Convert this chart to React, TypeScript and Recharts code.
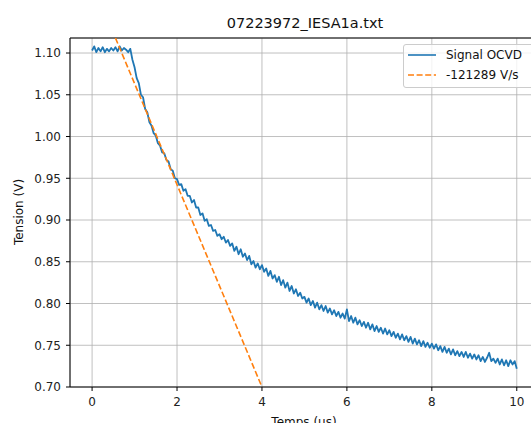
import React from "react";
import { LineChart, Line, XAxis, YAxis, CartesianGrid, ReferenceLine } from "recharts";

const TITLE = "07223972_IESA1a.txt";
const X_LABEL = "Temps (us)";
const Y_LABEL = "Tension (V)";
const SERIES_NAMES = ["Signal OCVD", "-121289 V/s"];

const X_TICKS = [0, 2, 4, 6, 8, 10];
const Y_TICKS = [0.7, 0.75, 0.8, 0.85, 0.9, 0.95, 1.0, 1.05, 1.1];

const TIME_STEP_US = 0.05;
const SIGNAL_V = [
  1.103, 1.108, 1.101, 1.106, 1.102, 1.107, 1.101, 1.105, 1.102, 1.106,
  1.103, 1.107, 1.102, 1.108, 1.103, 1.106, 1.104, 1.101, 1.105, 1.092,
  1.083, 1.070, 1.064, 1.050, 1.047, 1.033, 1.029, 1.017, 1.013, 1.004,
  1.001, 0.992, 0.989, 0.981, 0.980, 0.972, 0.970, 0.961, 0.959, 0.950,
  0.949, 0.942, 0.943, 0.935, 0.937, 0.929, 0.929, 0.921, 0.924, 0.915,
  0.915, 0.906, 0.908, 0.899, 0.901, 0.893, 0.894, 0.887, 0.888, 0.881,
  0.883, 0.877, 0.880, 0.873, 0.876, 0.869, 0.872, 0.863, 0.868, 0.859,
  0.865, 0.856, 0.860, 0.852, 0.857, 0.847, 0.851, 0.843, 0.848, 0.841,
  0.846, 0.838, 0.842, 0.833, 0.839, 0.830, 0.834, 0.826, 0.832, 0.822,
  0.828, 0.819, 0.825, 0.815, 0.821, 0.812, 0.817, 0.809, 0.813, 0.806,
  0.808, 0.801, 0.806, 0.798, 0.803, 0.795, 0.801, 0.793, 0.798, 0.791,
  0.797, 0.789, 0.794, 0.787, 0.792, 0.785, 0.790, 0.783, 0.788, 0.782,
  0.793, 0.779, 0.785, 0.777, 0.783, 0.775, 0.780, 0.773, 0.778, 0.771,
  0.777, 0.769, 0.775, 0.767, 0.773, 0.766, 0.771, 0.764, 0.770, 0.763,
  0.768, 0.761, 0.766, 0.759, 0.764, 0.757, 0.763, 0.756, 0.761, 0.754,
  0.760, 0.752, 0.758, 0.751, 0.756, 0.749, 0.755, 0.748, 0.753, 0.747,
  0.752, 0.746, 0.751, 0.744, 0.749, 0.742, 0.748, 0.741, 0.746, 0.739,
  0.745, 0.738, 0.743, 0.737, 0.742, 0.736, 0.742, 0.735, 0.740, 0.734,
  0.739, 0.733, 0.738, 0.731, 0.736, 0.730, 0.735, 0.741, 0.731, 0.734,
  0.729, 0.734, 0.727, 0.733, 0.726, 0.732, 0.725, 0.732, 0.727, 0.731,
  0.722,
];

const FIT_T = [0.55, 4.0];
const FIT_V = [1.118, 0.7];

const signalData = SIGNAL_V.map((v, i) => ({ t: +(i * TIME_STEP_US).toFixed(2), v }));
const fitData = FIT_T.map((t, i) => ({ t, v: FIT_V[i] }));

const FONT = "'DejaVu Sans', sans-serif";
const BLUE = "#1f77b4";
const ORANGE = "#ff7f0e";
const Y_MAX = 1.118;

export default function App() {
  return (
    <div
      style={{
        position: "absolute",
        left: 0,
        top: 0,
        width: 531,
        height: 423,
        overflow: "hidden",
        background: "#fff",
        fontFamily: FONT,
      }}
    >
      <LineChart
        width={540}
        height={423}
        margin={{ top: 38, right: 2, bottom: 0, left: 0 }}
        style={{ fontFamily: FONT }}
      >
        <CartesianGrid stroke="#b0b0b0" strokeWidth={0.8} />
        <XAxis
          dataKey="t"
          type="number"
          domain={[-0.52, 10.5]}
          ticks={X_TICKS}
          allowDataOverflow
          height={36}
          tickSize={4}
          tickMargin={6}
          stroke="#000"
          tick={{ fill: "#222", fontSize: 12 }}
        />
        <YAxis
          dataKey="v"
          type="number"
          domain={[0.7, Y_MAX]}
          ticks={Y_TICKS}
          allowDataOverflow
          width={70}
          tickSize={4}
          tickMargin={5}
          stroke="#000"
          tick={{ fill: "#222", fontSize: 12 }}
          tickFormatter={(v: number) => v.toFixed(2)}
        />
        <ReferenceLine y={Y_MAX} stroke="#000" strokeWidth={1} />
        <Line
          data={signalData}
          dataKey="v"
          type="linear"
          stroke={BLUE}
          strokeWidth={1.8}
          strokeLinejoin="round"
          dot={false}
          isAnimationActive={false}
        />
        <Line
          data={fitData}
          dataKey="v"
          type="linear"
          stroke={ORANGE}
          strokeWidth={1.6}
          strokeDasharray="6 2.6"
          dot={false}
          isAnimationActive={false}
        />
      </LineChart>

      <div
        style={{
          position: "absolute",
          left: 155,
          width: 300,
          top: 15,
          textAlign: "center",
          fontSize: 14.5,
          color: "#111",
          whiteSpace: "nowrap",
        }}
      >
        {TITLE}
      </div>

      <div
        style={{
          position: "absolute",
          left: 204,
          width: 200,
          top: 415,
          textAlign: "center",
          fontSize: 12,
          color: "#111",
          whiteSpace: "nowrap",
        }}
      >
        {X_LABEL}
      </div>

      <div
        style={{
          position: "absolute",
          left: 19 - 60,
          top: 212 - 8,
          width: 120,
          height: 16,
          lineHeight: "16px",
          textAlign: "center",
          fontSize: 12,
          color: "#111",
          transform: "rotate(-90deg)",
          whiteSpace: "nowrap",
        }}
      >
        {Y_LABEL}
      </div>

      <div
        style={{
          position: "absolute",
          left: 403,
          top: 44,
          width: 150,
          height: 42,
          border: "1px solid #cccccc",
          borderRadius: 3,
          background: "rgba(255,255,255,0.8)",
          fontSize: 12,
          color: "#111",
        }}
      >
        {SERIES_NAMES.map((name, i) => (
          <div
            key={name}
            style={{
              position: "absolute",
              left: 0,
              top: 2 + i * 20,
              height: 16,
              display: "flex",
              alignItems: "center",
              whiteSpace: "nowrap",
            }}
          >
            <svg width={42} height={16} style={{ display: "block" }}>
              <line
                x1={4}
                x2={32}
                y1={8}
                y2={8}
                stroke={i === 0 ? BLUE : ORANGE}
                strokeWidth={1.6}
                strokeDasharray={i === 0 ? undefined : "6 2.6"}
              />
            </svg>
            <span>{name}</span>
          </div>
        ))}
      </div>
    </div>
  );
}
